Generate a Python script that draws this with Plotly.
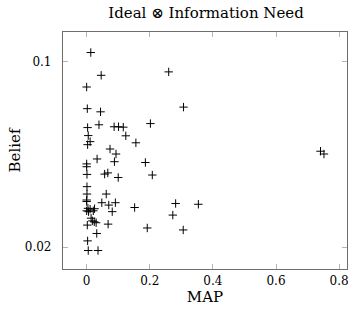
import plotly.graph_objects as go

map_values = [0.013, 0.046, 0.260, 0.000, 0.002, 0.044, 0.307, 0.003, 0.039, 0.087,
              0.101, 0.116, 0.202, 0.005, 0.124, 0.011, 0.156, 0.003, 0.074, 0.093,
              0.033, 0.088, 0.186, 0.000, 0.000, 0.001, 0.057, 0.067, 0.208, 0.100,
              0.001, 0.001, 0.062, 0.000, 0.000, 0.048, 0.070, 0.091, 0.282, 0.354,
              0.152, 0.004, 0.011, 0.000, 0.006, 0.025, 0.021, 0.081, 0.273, 0.014,
              0.018, 0.024, 0.030, 0.002, 0.068, 0.192, 0.306, 0.032, 0.003, 0.005,
              0.036, 0.741, 0.752]
belief_values = [0.1085, 0.0890, 0.0917, 0.0804, 0.0666, 0.0648, 0.0675, 0.0565, 0.0579, 0.0569,
                 0.0569, 0.0567, 0.0585, 0.0527, 0.0526, 0.0500, 0.0495, 0.0487, 0.0469, 0.0449,
                 0.0430, 0.0420, 0.0417, 0.0412, 0.0402, 0.0376, 0.0377, 0.0381, 0.0374, 0.0366,
                 0.0338, 0.0317, 0.0317, 0.0301, 0.0297, 0.0294, 0.0288, 0.0294, 0.0292, 0.0290,
                 0.0282, 0.0280, 0.0278, 0.0274, 0.0272, 0.0279, 0.0274, 0.0272, 0.0264, 0.0257,
                 0.0251, 0.0249, 0.0247, 0.0242, 0.0244, 0.0236, 0.0232, 0.0225, 0.0211, 0.0194,
                 0.0194, 0.0460, 0.0449]

x_ticks = [0, 0.2, 0.4, 0.6, 0.8]
x_tick_labels = ["0", "0.2", "0.4", "0.6", "0.8"]
y_ticks = [0.02, 0.1]
y_tick_labels = ["0.02", "0.1"]

font_family = "DejaVu Serif, Liberation Serif, serif"

fig = go.Figure(go.Scatter(
    x=map_values, y=belief_values, mode="markers",
    marker=dict(symbol="cross-thin", size=6, color="black",
                line=dict(width=1, color="black")),
    hoverinfo="x+y"))

fig.update_layout(
    width=351, height=318,
    margin=dict(l=63, r=4, t=32, b=49, autoexpand=False),
    paper_bgcolor="white", plot_bgcolor="white",
    showlegend=False,
    font=dict(family=font_family, color="black", size=12),
    title=dict(text="Ideal ⊗ Information Need", x=0.587, xanchor="center",
               y=0.96, yanchor="middle", font=dict(size=15, family=font_family)),
)
fig.update_xaxes(
    range=[-0.075, 0.825], tickvals=x_ticks, ticktext=x_tick_labels,
    ticks="inside", ticklen=5, tickcolor="#b5b5b5", tickwidth=1,
    showline=True, linecolor="#6e6e6e", linewidth=1.2, mirror="allticks",
    showgrid=False, zeroline=False, automargin=False,
    title=dict(text="MAP", font=dict(size=15), standoff=4),
    tickfont=dict(size=12),
)
fig.update_yaxes(
    type="log", range=[-1.782, -0.887], tickvals=y_ticks, ticktext=y_tick_labels,
    ticks="inside", ticklen=5, tickcolor="#b5b5b5", tickwidth=1,
    showline=True, linecolor="#6e6e6e", linewidth=1.2, mirror="allticks",
    showgrid=False, zeroline=False, automargin=False,
    ticklabelstandoff=8,
    title=dict(text="Belief", font=dict(size=15), standoff=0),
    tickfont=dict(size=12),
)

fig.write_html(
    "out.html",
    config={"displayModeBar": False},
    post_script="document.body.style.margin='0';document.body.style.overflow='hidden';"
                "document.documentElement.style.overflow='hidden';",
)
